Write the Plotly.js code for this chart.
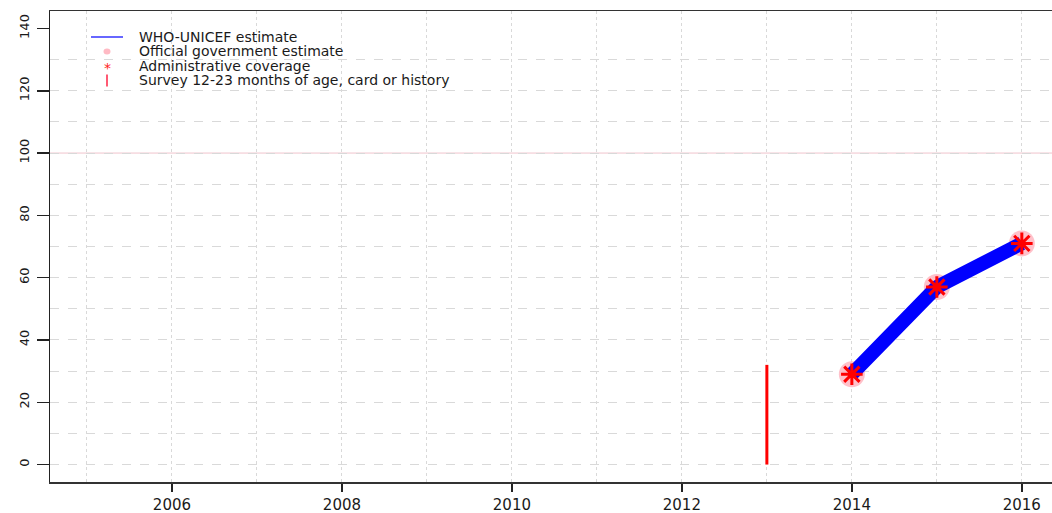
<!DOCTYPE html>
<html>
<head>
<meta charset="utf-8">
<script src="https://cdn.plot.ly/plotly-3.0.1.min.js"></script>
<style>html,body{margin:0;padding:0;background:#fff;}#chart{width:1052px;height:513px;}</style>
</head>
<body>
<div id="chart"></div>
<script>
// ---- data ----
const whoYears = [2014, 2015, 2016];
const whoValues = [29, 57, 71];
const officialYears = [2014, 2015, 2016];
const officialValues = [29, 57, 71];
const adminYears = [2014, 2015, 2016];
const adminValues = [29, 57, 71];
const surveyYears = [2013];
const surveyValues = [32];
const gridYears = [2005, 2007, 2009, 2011, 2013, 2015];
const xTickYears = [2006, 2008, 2010, 2012, 2014, 2016];
const yTickValues = [0, 20, 40, 60, 80, 100, 120, 140];
const yGridValues = [0, 10, 20, 30, 40, 50, 60, 70, 80, 90, 100, 110, 120, 130];
const legendNames = ["WHO-UNICEF estimate", "Official government estimate", "Administrative coverage", "Survey 12-23 months of age, card or history"];

// survey bars: vertical segments from 0 to the survey value
const surveyX = [], surveyY = [];
surveyYears.forEach((yr, i) => { surveyX.push(yr, yr, null); surveyY.push(0, surveyValues[i], null); });

const W = 1052, H = 513, ML = 50, MT = 11, MB = 31;
const PW = W - ML, PH = H - MT - MB;
const px = v => (v - ML) / PW;          // pixel x -> paper x
const py = v => 1 - (v - MT) / PH;       // pixel y -> paper y

const XR = [2004.565, 2016.355];
const YR = [-5.6, 145.6];
const FONT = "DejaVu Sans, Liberation Sans, Arial, sans-serif";
const PINK = 'rgba(255,182,193,0.85)';
const GRID = '#d9d9d9';

const traces = [
  { x: officialYears, y: officialValues, xaxis: 'x', yaxis: 'y2', mode: 'markers', type: 'scatter', name: legendNames[1],
    marker: { symbol: 'circle', size: 26, color: PINK }, showlegend: false, hoverinfo: 'skip' },
  { x: whoYears, y: whoValues, xaxis: 'x', yaxis: 'y2', mode: 'lines', type: 'scatter', name: legendNames[0],
    line: { color: '#0000ff', width: 14 }, showlegend: false, hoverinfo: 'skip' },
  { x: adminYears, y: adminValues, xaxis: 'x', yaxis: 'y2', mode: 'markers', type: 'scatter', name: legendNames[2],
    marker: { symbol: 'asterisk-open', size: 18, color: '#ff0000', line: { color: '#ff0000', width: 3 } }, showlegend: false, hoverinfo: 'skip' },
  { x: surveyX, y: surveyY, xaxis: 'x', yaxis: 'y2', mode: 'lines', type: 'scatter', name: legendNames[3],
    line: { color: '#ff0000', width: 3 }, showlegend: false, hoverinfo: 'skip' }
];

// legend (drawn R-style: compact rows)
const rowY = [37, 51.5, 66, 80.5];
const textX = 138, symX = 107;
const annotations = legendNames.map((t, i) => ({
  xref: 'paper', yref: 'paper', x: px(textX), y: py(rowY[i]), xanchor: 'left', yanchor: 'middle',
  text: t, showarrow: false, borderpad: 0, font: { family: FONT, size: 14, color: '#1a1a1a' }
}));
annotations.push({
  xref: 'paper', yref: 'paper', x: px(symX), y: py(rowY[2] + 2), xanchor: 'center', yanchor: 'middle',
  text: '*', showarrow: false, borderpad: 0, font: { family: FONT, size: 14, color: '#ff2020' }
});

const shapes = [
  { type: 'line', xref: 'paper', x0: 0, x1: 1, yref: 'y', y0: 100, y1: 100,
    line: { color: '#f0c4cc', width: 1 }, layer: 'below' },
  // legend glyphs
  { type: 'line', xref: 'paper', yref: 'paper', x0: px(91), x1: px(123), y0: py(rowY[0]), y1: py(rowY[0]),
    line: { color: '#0000ff', width: 1.2 } },
  { type: 'circle', xref: 'paper', yref: 'paper', x0: px(symX - 3.5), x1: px(symX + 3.5), y0: py(rowY[1] - 3), y1: py(rowY[1] + 3),
    fillcolor: 'rgba(255,182,193,0.95)', line: { width: 0 } },
  { type: 'line', xref: 'paper', yref: 'paper', x0: px(symX), x1: px(symX), y0: py(rowY[3] - 6), y1: py(rowY[3] + 6),
    line: { color: '#ff3050', width: 1.6 } }
];

const layout = {
  width: W, height: H,
  margin: { l: ML, r: 0, t: MT, b: MB, pad: 0 },
  paper_bgcolor: '#ffffff', plot_bgcolor: '#ffffff',
  font: { family: FONT, color: '#222', size: 14 },
  showlegend: false,
  xaxis: {
    range: XR, fixedrange: true,
    tickmode: 'array', tickvals: xTickYears, ticktext: xTickYears.map(String),
    ticks: 'outside', ticklen: 8, tickwidth: 1.5, tickcolor: '#222',
    tickfont: { family: FONT, size: 15, color: '#1a1a1a' },
    showgrid: true, gridcolor: GRID, griddash: 'dot', gridwidth: 1,
    minor: { tickvals: gridYears, showgrid: true, gridcolor: GRID, griddash: 'dot', gridwidth: 1, ticks: '' },
    showline: true, mirror: true, linecolor: '#333', linewidth: 1.5,
    zeroline: false
  },
  yaxis: {
    range: YR, fixedrange: true,
    tickmode: 'array', tickvals: yGridValues, showticklabels: false, ticks: '',
    showgrid: true, gridcolor: GRID, griddash: 'dash', gridwidth: 1,
    showline: true, linecolor: '#222', linewidth: 1.5, zeroline: false
  },
  yaxis2: {
    overlaying: 'y', range: YR, fixedrange: true, side: 'left',
    tickmode: 'array', tickvals: yTickValues, ticktext: yTickValues.map(String),
    ticks: 'outside', ticklen: 12, tickwidth: 1.5, tickcolor: '#222', tickangle: -90,
    ticklabelstandoff: 3,
    tickfont: { family: FONT, size: 13, color: '#1a1a1a' },
    showgrid: false, showline: false, zeroline: false
  },
  annotations: annotations,
  shapes: shapes
};

Plotly.newPlot('chart', traces, layout, { displayModeBar: false, staticPlot: true });
</script>
</body>
</html>
